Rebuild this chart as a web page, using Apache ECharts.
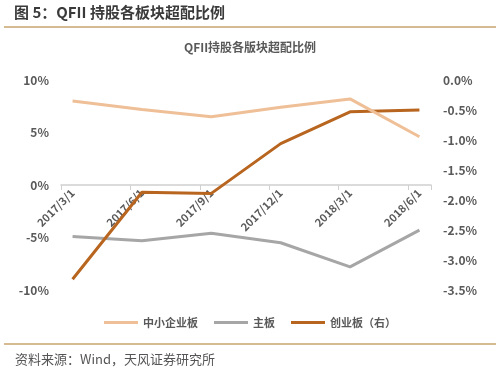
<!DOCTYPE html>
<html><head><meta charset="utf-8">
<script src="https://cdn.jsdelivr.net/npm/echarts@6/dist/echarts.min.js"></script>
<style>html,body{margin:0;padding:0;background:#fff;}#c{width:500px;height:377px;}</style>
</head><body><div id="c"></div>
<script>
var months = ['2017/3/1','2017/4/1','2017/5/1','2017/6/1','2017/7/1','2017/8/1','2017/9/1','2017/10/1','2017/11/1','2017/12/1','2018/1/1','2018/2/1','2018/3/1','2018/4/1','2018/5/1','2018/6/1'];
var zxb = [8.0,null,null,7.2,null,null,6.5,null,null,7.4,null,null,8.2,null,null,4.6];
var zb = [-4.9,null,null,-5.3,null,null,-4.6,null,null,-5.5,null,null,-7.8,null,null,-4.3];
var cyb = [-3.32,null,null,-1.87,null,null,-1.89,null,null,-1.06,null,null,-0.53,null,null,-0.50];
var leftTicks = [-10,-5,0,5,10];
var rightTicks = [-3.5,-3.0,-2.5,-2.0,-1.5,-1.0,-0.5,0.0];
var names = ['中小企业板','主板','创业板（右）'];

var chart = echarts.init(document.getElementById('c'));
var font = '"Noto Sans CJK SC", "Noto Sans", sans-serif';
chart.setOption({
  animation:false,
  textStyle:{fontFamily:font},
  graphic:[
    {type:'text',left:14,top:5,style:{text:'图 5：QFII 持股各板块超配比例',font:'bold 15px '+font,fill:'#3a3a3a'}},
    {type:'line',shape:{x1:4,y1:27,x2:496,y2:27},style:{stroke:'#c9a36c',lineWidth:1.5}},
    {type:'text',left:'center',top:41,style:{text:'QFII持股各版块超配比例',font:'bold 12px '+font,fill:'#595959'}},
    {type:'line',shape:{x1:4,y1:344,x2:496,y2:344},style:{stroke:'#c9a36c',lineWidth:1.5}},
    {type:'text',left:15,top:353,style:{text:'资料来源：Wind，天风证券研究所',font:'13px '+font,fill:'#555'}}
  ],
  legend:{
    data:names, top:312, left:'center', itemWidth:34, itemHeight:3, itemGap:16,
    icon:'rect',
    textStyle:{fontSize:11,fontWeight:'bold',color:'#595959',fontFamily:font}
  },
  grid:{left:61,right:69,top:80,bottom:87},
  xAxis:{
    type:'category', data:months, boundaryGap:true, position:'bottom', offset:-105,
    axisLine:{onZero:false,lineStyle:{color:'#d0d0d0',width:1.5}},
    axisTick:{show:true,interval:2,length:5,lineStyle:{color:'#d0d0d0'}},
    axisLabel:{interval:2,rotate:45,fontSize:11,fontWeight:'bold',color:'#595959',margin:6},
    splitLine:{show:false}
  },
  yAxis:[
    {type:'value',min:-10,max:10,interval:5,position:'left',
     axisLine:{show:false},axisTick:{show:false},splitLine:{show:false},
     axisLabel:{formatter:function(v){return v+'%';},fontSize:12,fontWeight:'bold',color:'#595959',margin:12}},
    {type:'value',min:-3.5,max:0,interval:0.5,position:'right',
     axisLine:{show:false},axisTick:{show:false},splitLine:{show:false},
     axisLabel:{formatter:function(v){return v.toFixed(1)+'%';},fontSize:12,fontWeight:'bold',color:'#595959',margin:12}}
  ],
  series:[
    {name:names[0],type:'line',data:zxb,yAxisIndex:0,connectNulls:true,symbol:'none',
     lineStyle:{width:3,color:'#efbf97'},itemStyle:{color:'#efbf97'},z:3},
    {name:names[1],type:'line',data:zb,yAxisIndex:0,connectNulls:true,symbol:'none',
     lineStyle:{width:3,color:'#a6a6a6'},itemStyle:{color:'#a6a6a6'},z:2},
    {name:names[2],type:'line',data:cyb,yAxisIndex:1,connectNulls:true,symbol:'none',
     lineStyle:{width:3,color:'#b8651f'},itemStyle:{color:'#b8651f'},z:2}
  ]
});
</script></body></html>
